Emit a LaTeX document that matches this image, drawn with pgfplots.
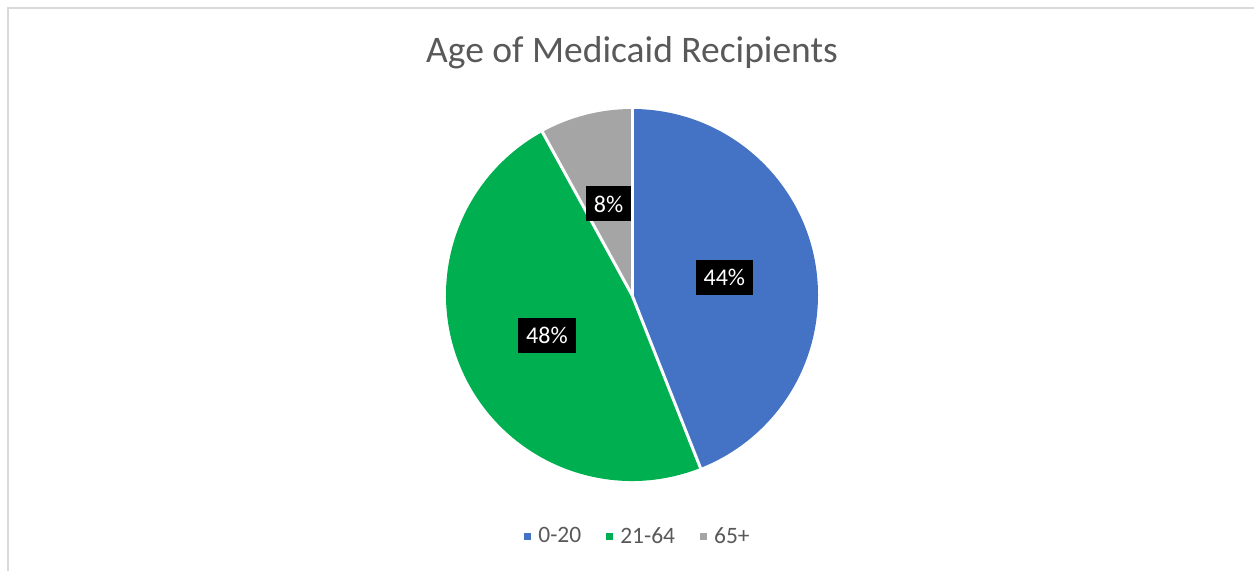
\documentclass[border=0pt]{standalone}
\usepackage{pgfplots}
\usepackage{pgfplotstable}
\usepackage{fontspec}
\setmainfont{Carlito}
\pgfplotsset{compat=1.18}

\definecolor{c0}{HTML}{4472C4}
\definecolor{c1}{HTML}{00B050}
\definecolor{c2}{HTML}{A5A5A5}
\definecolor{txt}{HTML}{595959}
\definecolor{frame}{HTML}{D9D9D9}

% share of recipients by age group (percent)
\pgfplotstableread{
label value
0-20  44
21-64 48
65+   8
}\piedata

\begin{document}
\begin{tikzpicture}
\pgfplotstablegetelem{0}{value}\of\piedata \let\va\pgfplotsretval
\pgfplotstablegetelem{1}{value}\of\piedata \let\vb\pgfplotsretval
\pgfplotstablegetelem{2}{value}\of\piedata \let\vc\pgfplotsretval
% wedges run clockwise from 12 o'clock
\pgfmathsetmacro\aA{90}
\pgfmathsetmacro\aB{\aA-3.6*\va}
\pgfmathsetmacro\aC{\aB-3.6*\vb}
\pgfmathsetmacro\aD{\aC-3.6*\vc}
\pgfmathsetmacro\mA{(\aA+\aB)/2}
\pgfmathsetmacro\mB{(\aB+\aC)/2}
\pgfmathsetmacro\mC{(\aC+\aD)/2}
\begin{axis}[
    scale only axis,
    width=1254pt, height=571pt,
    xmin=0, xmax=1254, ymin=0, ymax=571,
    enlargelimits=false,
    hide axis,
    title={Age of Medicaid Recipients},
    title style={at={(0.504,0.897)}, anchor=center, font=\fontsize{37.5}{41}\selectfont, text=txt},
    legend columns=-1,
    legend style={at={(axis cs:638,35)}, anchor=center, draw=none, fill=none,
        font=\fontsize{23.5}{26}\selectfont, text=txt,
        /tikz/every odd column/.append style={column sep=5pt},
        /tikz/every even column/.append style={column sep=23pt}},
    legend image code/.code={\fill[#1] (0pt,-3.5pt) rectangle (7pt,3.5pt);},
]
\coordinate (ll) at (rel axis cs:0,0);
\coordinate (ur) at (rel axis cs:1,1);
\draw[frame, line width=1.3pt] (axis cs:8,0) -- (axis cs:8,563) -- (axis cs:1254,563);

\fill[c0] (axis cs:632,276) -- ++(\aA:186pt) arc[start angle=\aA, end angle=\aB, radius=186pt] -- cycle;
\fill[c1] (axis cs:632,276) -- ++(\aB:186pt) arc[start angle=\aB, end angle=\aC, radius=186pt] -- cycle;
\fill[c2] (axis cs:632,276) -- ++(\aC:186pt) arc[start angle=\aC, end angle=\aD, radius=186pt] -- cycle;
\draw[white, line width=3pt] (axis cs:632,276) -- ++(\aA:187pt);
\draw[white, line width=3pt] (axis cs:632,276) -- ++(\aB:187pt);
\draw[white, line width=3pt] (axis cs:632,276) -- ++(\aC:187pt);

\path (axis cs:632,276) ++(\mA:94pt) node[fill=black, text=white, inner xsep=8pt, minimum height=35pt, font=\fontsize{24}{26}\selectfont] {\va\%};
\path (axis cs:632,276) ++(\mB:94pt) node[fill=black, text=white, inner xsep=8pt, minimum height=35pt, font=\fontsize{24}{26}\selectfont] {\vb\%};
\path (axis cs:632,276) ++(\mC:94pt) node[fill=black, text=white, inner xsep=8pt, minimum height=35pt, font=\fontsize{24}{26}\selectfont] {\vc\%};

\addlegendimage{fill=c0, draw=none}
\addlegendentry{0-20}
\addlegendimage{fill=c1, draw=none}
\addlegendentry{21-64}
\addlegendimage{fill=c2, draw=none}
\addlegendentry{65+}
\end{axis}
\pgfresetboundingbox
\path (ll) rectangle (ur);
\end{tikzpicture}
\end{document}
